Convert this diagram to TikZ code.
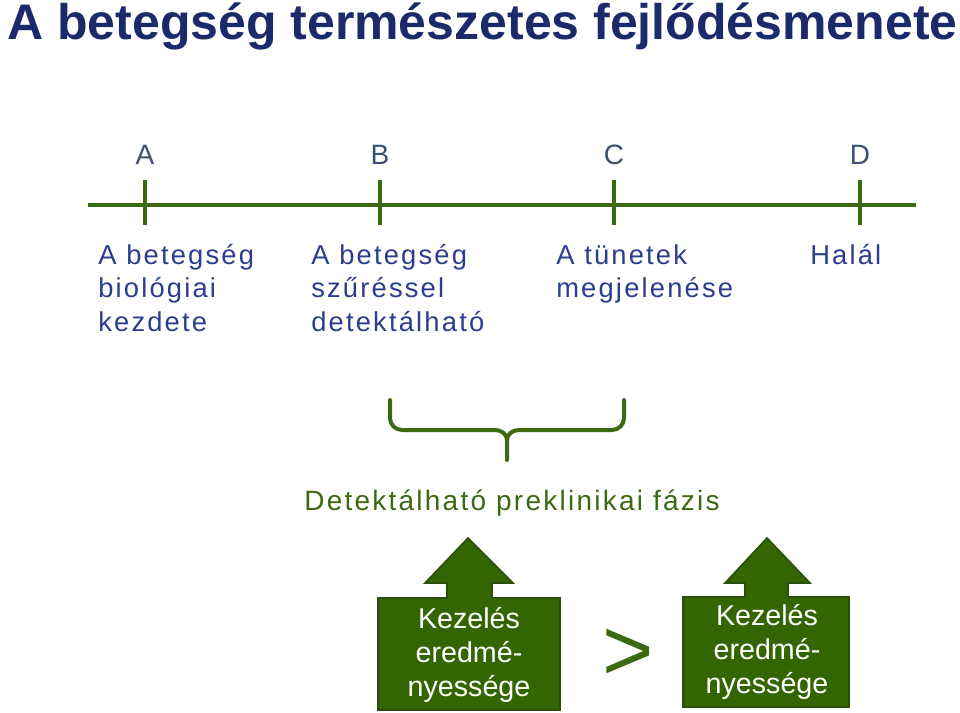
\documentclass[tikz,border=0pt]{standalone}
\usepackage{fontspec}
\setmainfont{Liberation Sans}
\newfontfamily\spaced[LetterSpace=8]{Liberation Sans}
\definecolor{navy}{HTML}{1B2A6B}
\definecolor{lbl}{HTML}{2A3D8F}
\definecolor{letter}{HTML}{3C5070}
\definecolor{grn}{HTML}{3B6A12}
\definecolor{boxg}{HTML}{336600}
\definecolor{boxb}{HTML}{2A4F0A}
\tikzset{
  lab/.style={anchor=north west,align=left,text=lbl,font=\spaced\fontsize{20.5}{25}\selectfont,inner sep=0},
  letr/.style={text=letter,font=\fontsize{21}{22}\selectfont},
  tick/.style={draw=grn,line width=3.5pt},
  abox/.style={fill=boxg,draw=boxb,line width=1.2pt},
  btxt/.style={text=white,align=center,font=\fontsize{21.5}{25.5}\selectfont}
}
\begin{document}
\begin{tikzpicture}[x=0.75pt,y=-0.75pt]
\useasboundingbox (0,0) rectangle (960,713);
\node[anchor=base west,inner sep=0,text=navy,font=\bfseries\fontsize{37.5}{40}\selectfont] (title) at (7,40) {A betegség természetes fejlődésmenete};
\draw[grn,line width=3.5pt] (88,205) -- (916,205);
\foreach \x/\l/\n in {145/A/a,380/B/b,614/C/c,860/D/d}{
  \draw[tick] (\x,180) -- (\x,225);
  \node[letr] (\n) at (\x,155) {\l};
}
\node[lab] (la) at (98,244) {A betegség\\biológiai\\kezdete};
\node[lab] (lb) at (311,244) {A betegség\\szűréssel\\detektálható};
\node[lab] (lc) at (556,244) {A tünetek\\megjelenése};
\node[lab] (ld) at (810,244) {Halál};
\draw[grn,line width=3pt,line cap=round,line join=round]
  (390,400) -- (390,418) to[out=-90,in=180] (402,430) -- (495,430)
  to[out=0,in=90] (507,440) -- (507,460);
\draw[grn,line width=3pt,line cap=round]
  (507,440) to[out=90,in=180] (519,430) -- (612,430) to[out=0,in=-90] (624,418) -- (624,400);
\node[text=grn,font=\spaced\fontsize{21}{24}\selectfont] (phase) at (512,503) {Detektálható preklinikai fázis};
\draw[abox] (378,598) -- (447,598) -- (447,583) -- (425,583) -- (468,538) -- (513,583) -- (492,583) -- (492,598) -- (560,598) -- (560,710) -- (378,710) -- cycle;
\node[btxt] (t1) at (469,655) {Kezelés\\eredmé-\\nyessége};
\draw[abox] (683,597) -- (745,597) -- (745,583) -- (725,583) -- (767,538) -- (810,583) -- (788,583) -- (788,597) -- (849,597) -- (849,707) -- (683,707) -- cycle;
\node[btxt] (t2) at (767,652) {Kezelés\\eredmé-\\nyessége};
\node[text=grn,font=\fontsize{66}{66}\selectfont] (gt) at (628,655) {>};
\end{tikzpicture}
\end{document}
